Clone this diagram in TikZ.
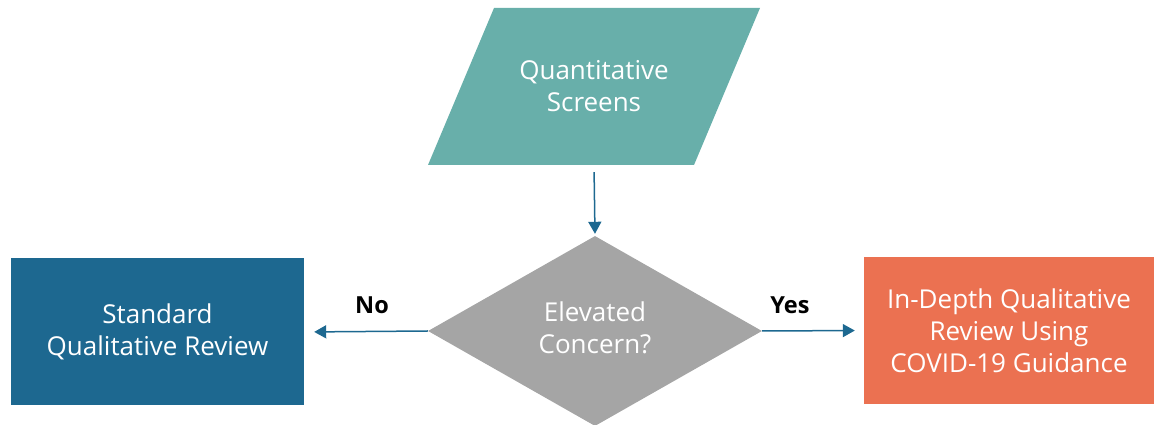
\documentclass[tikz,border=0pt]{standalone}
\usepackage{fontspec}
\setmainfont{Open Sans}
\usetikzlibrary{shapes.geometric,arrows.meta}
\definecolor{teal1}{HTML}{68AFAA}
\definecolor{blue1}{HTML}{1D6890}
\definecolor{orange1}{HTML}{EB7151}
\definecolor{grey1}{HTML}{A5A5A5}
\tikzset{
  x=1pt,y=1pt,
  boxtext/.style={text=white,font=\fontsize{26}{32}\selectfont,align=center,inner sep=0pt},
  rectbox/.style={boxtext,rectangle,minimum width=#1,minimum height=147pt},
  arr/.style={draw=blue1,line width=1.5pt,-{Triangle[length=12pt,width=13pt]}},
  lbl/.style={font=\fontsize{23.5}{28}\selectfont\bfseries,text=black,inner sep=0pt}
}
\begin{document}
\begin{tikzpicture}
\useasboundingbox (0,0) rectangle (1154,425);
% parallelogram
\fill[teal1] (428,260) -- (694,260) -- (760,417) -- (494,417) -- cycle;
\node[boxtext,minimum width=200pt,minimum height=157pt] (qs) at (594,338.5) {Quantitative\\Screens};
% diamond
\node[diamond,fill=grey1,minimum width=334pt,minimum height=190pt,inner sep=0pt] (dia) at (595,94) {};
\node[boxtext] (diat) at (595,97) {Elevated\\Concern?};
% boxes
\node[rectbox=293pt,fill=blue1] (std) at (157.5,93) {Standard\\Qualitative Review};
\node[rectbox=290pt,fill=orange1] (ind) at (1009,94.5) {In-Depth Qualitative\\Review Using\\COVID-19 Guidance};
% arrows
\draw[arr,shorten <=7pt,shorten >=2pt] (qs.south) -- (dia.north);
\draw[arr,shorten >=10pt] (dia.west) -- (std.east);
\draw[arr,shorten >=9pt] (dia.east) -- (ind.west);
% labels
\node[lbl] (no) at (372,120) {No};
\node[lbl] (yes) at (790,120) {Yes};
\end{tikzpicture}
\end{document}
